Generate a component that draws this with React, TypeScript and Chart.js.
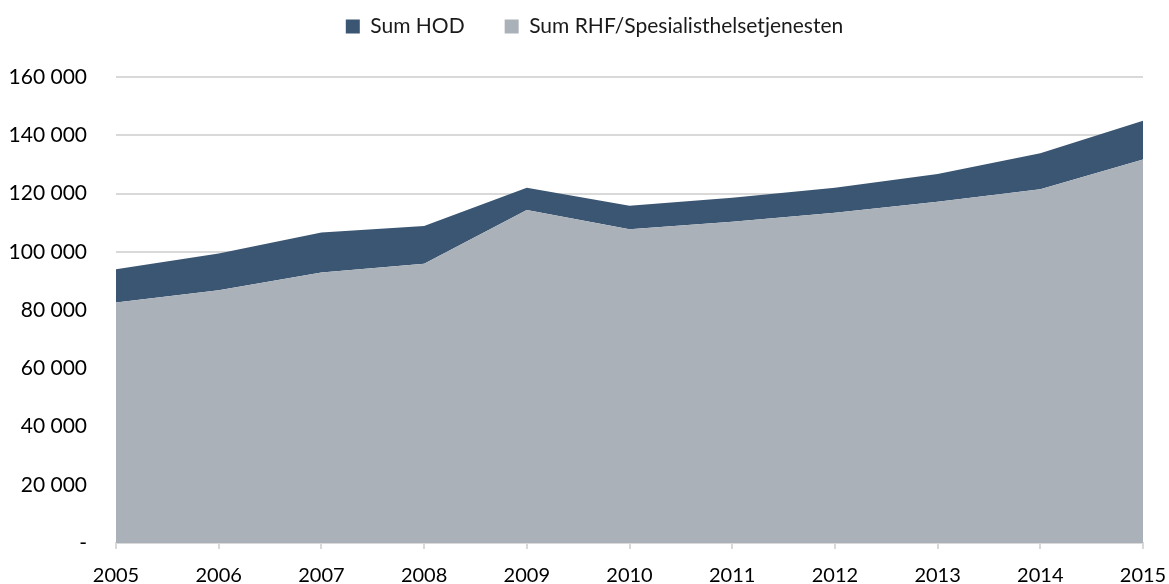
import React, { useEffect, useRef } from "react";
import { Chart, registerables } from "chart.js";

Chart.register(...registerables);

const years = ["2005", "2006", "2007", "2008", "2009", "2010", "2011", "2012", "2013", "2014", "2015"];
const rhfValues = [82600, 86800, 92900, 95900, 114300, 107700, 110300, 113400, 117200, 121500, 131700];
const hodValues = [11400, 12600, 13700, 12900, 7700, 8100, 8200, 8600, 9500, 12300, 13300];
const seriesNames = ["Sum RHF/Spesialisthelsetjenesten", "Sum HOD"];

const FONT = "Lato, 'Open Sans', sans-serif";

function fmt(v: number): string {
  if (v === 0) return "-";
  return String(v).replace(/\B(?=(\d{3})+(?!\d))/g, " ");
}

const legendShift = {
  id: "legendShift",
  afterLayout(chart: any) {
    const lg = chart.legend;
    if (lg) {
      lg.left += 23;
      lg.right += 23;
    }
  },
};

export default function App() {
  const ref = useRef<HTMLCanvasElement | null>(null);
  useEffect(() => {
    document.body.style.margin = "0";
    const ctx = ref.current!.getContext("2d")!;
    const chart = new Chart(ctx, {
      type: "line",
      data: {
        labels: years,
        datasets: [
          {
            label: seriesNames[0],
            data: rhfValues,
            backgroundColor: "#ABB1B8",
            borderColor: "#ABB1B8",
            borderWidth: 0,
            pointRadius: 0,
            fill: "origin",
            tension: 0,
          },
          {
            label: seriesNames[1],
            data: hodValues,
            backgroundColor: "#3B5673",
            borderColor: "#3B5673",
            borderWidth: 0,
            pointRadius: 0,
            fill: "-1",
            tension: 0,
          },
        ],
      },
      plugins: [legendShift],
      options: {
        animation: false,
        responsive: false,
        layout: { padding: { left: 0, right: 26, top: -24, bottom: 0 } },
        plugins: {
          tooltip: { enabled: false },
          legend: {
            position: "top",
            reverse: true,
            weight: 3000,
            labels: {
              boxWidth: 14,
              boxHeight: 14,
              padding: 40,
              color: "#1a1a1a",
              font: { family: FONT, size: 21 },
            },
          } as any,
          subtitle: {
            display: true,
            text: "",
            position: "top",
            font: { size: 10 },
            padding: { top: 0, bottom: 18 },
          },
        },
        scales: {
          x: {
            offset: false,
            stacked: true,
            grid: {
              drawOnChartArea: false,
              drawTicks: true,
              tickLength: 6,
              color: "#D9D9D9",
              lineWidth: 2,
            },
            border: { color: "#D9D9D9", width: 2 },
            ticks: {
              color: "#000",
              font: { family: FONT, size: 20 },
              maxRotation: 0,
              autoSkip: false,
              padding: 15,
            },
            afterFit: (s: any) => {
              s.height = 41;
              s.paddingLeft = 0;
              s.paddingRight = 0;
            },
          },
          y: {
            stacked: true,
            min: 0,
            max: 160000,
            grid: { color: "#D9D9D9", lineWidth: 2, drawTicks: false },
            border: { display: false },
            ticks: {
              stepSize: 20000,
              color: "#000",
              font: { family: FONT, size: 21 },
              padding: 29,
              callback: (v: any) => fmt(Number(v)),
            },
            afterFit: (s: any) => {
              s.width = 116;
              s.paddingTop = 0;
              s.paddingBottom = 0;
            },
          },
        },
      },
    });
    return () => chart.destroy();
  }, []);
  return (
    <div style={{ width: 1169, height: 584 }}>
      <canvas ref={ref} width={1169} height={584} />
    </div>
  );
}
